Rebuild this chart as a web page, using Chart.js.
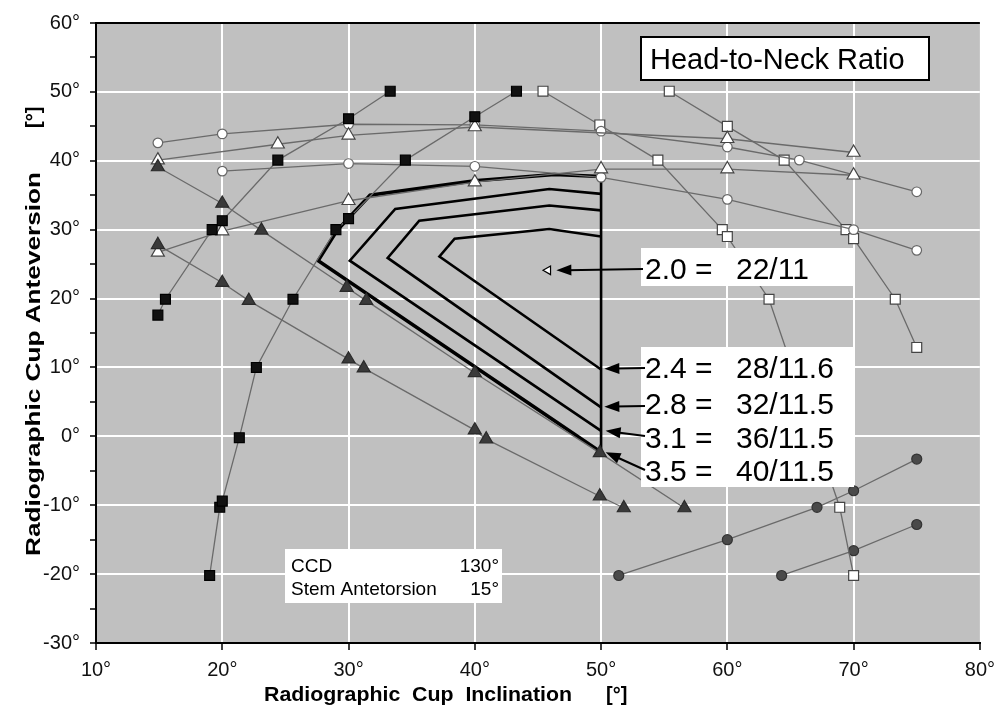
<!DOCTYPE html>
<html>
<head>
<meta charset="utf-8">
<script src="https://cdn.jsdelivr.net/npm/chart.js@4/dist/chart.umd.min.js"></script>
<style>
body { margin: 0; background: #fff; }
</style>
</head>
<body>
<canvas id="myChart" width="1003" height="716"></canvas>
<script>
// values, in degrees

// filled black squares
const sqBlackA_x = [19.0, 19.8, 20.0, 21.35, 22.7, 25.6, 29.0, 30.0, 34.5, 40.0, 43.3];
const sqBlackA_y = [-20.2, -10.3, -9.4, -0.2, 10.0, 19.9, 30.0, 31.6, 40.1, 46.4, 50.1];
const sqBlackB_x = [14.9, 15.5, 19.2, 20.0, 24.4, 30.0, 33.3];
const sqBlackB_y = [17.6, 19.9, 30.0, 31.3, 40.1, 46.1, 50.1];

// filled dark triangles
const triDarkA_x = [14.9, 20.0, 23.1, 29.85, 31.4, 40.0, 49.9, 56.6];
const triDarkA_y = [39.1, 33.8, 29.9, 21.6, 19.7, 9.2, -2.4, -10.4];
const triDarkB_x = [14.9, 20.0, 22.1, 30.0, 31.2, 40.0, 40.9, 49.9, 51.8];
const triDarkB_y = [27.8, 22.3, 19.7, 11.2, 9.9, 0.9, -0.4, -8.7, -10.4];

// open triangles
const triOpenA_x = [14.9, 24.4, 30.0, 40.0, 60.0, 70.0];
const triOpenA_y = [40.1, 42.4, 43.7, 44.9, 43.2, 41.2];
const triOpenB_x = [14.9, 20.0, 30.0, 40.0, 50.0, 60.0, 70.0];
const triOpenB_y = [26.7, 29.8, 34.2, 36.9, 38.8, 38.8, 37.9];

// open circles
const circOpenA_x = [14.9, 20.0, 30.0, 40.0, 50.0, 60.0, 65.7, 75.0];
const circOpenA_y = [42.6, 43.9, 45.3, 45.2, 44.3, 42.0, 40.1, 35.5];
const circOpenB_x = [20.0, 30.0, 40.0, 50.0, 60.0, 70.0, 75.0];
const circOpenB_y = [38.5, 39.6, 39.2, 37.6, 34.4, 30.0, 27.0];

// open squares
const sqOpenA_x = [45.4, 49.9, 54.5, 59.6, 60.0, 63.3, 68.9, 70.0];
const sqOpenA_y = [50.1, 45.2, 40.1, 30.0, 29.0, 19.9, -10.3, -20.2];
const sqOpenB_x = [55.4, 60.0, 64.5, 69.4, 70.0, 73.3, 75.0];
const sqOpenB_y = [50.1, 45.0, 40.1, 30.0, 28.7, 19.9, 12.9];

// filled dark circles
const circDarkA_x = [51.4, 60.0, 67.1, 70.0, 75.0];
const circDarkA_y = [-20.2, -15.0, -10.3, -7.9, -3.3];
const circDarkB_x = [64.3, 70.0, 75.0];
const circDarkB_y = [-20.2, -16.6, -12.8];

// head-to-neck ratio contours (thick black)
const c35_x = [50.0, 27.6, 29.1, 31.7, 40.0, 46.3, 50.0];
const c35_y = [-2.3, 25.5, 29.9, 35.0, 37.1, 38.0, 37.7];
const c31_x = [50.0, 30.1, 33.7, 45.9, 50.0];
const c31_y = [0.8, 25.5, 33.0, 35.9, 35.2];
const c28_x = [50.0, 33.1, 35.6, 45.9, 50.0];
const c28_y = [4.2, 25.9, 31.3, 33.5, 32.8];
const c24_x = [50.0, 37.2, 38.4, 45.9, 50.0];
const c24_y = [9.7, 26.1, 28.7, 30.1, 29.0];
const limit_x = [50.0, 50.0];
const limit_y = [-2.4, 37.7];
const ratio20_x = [45.8];
const ratio20_y = [24.1];

// labels for the arrows
const ratioNames = ['2.0 =', '2.4 =', '2.8 =', '3.1 =', '3.5 ='];
const ratioSizes = ['22/11', '28/11.6', '32/11.5', '36/11.5', '40/11.5'];
const arrowTip_x = [46.3, 50.1, 50.1, 50.2, 50.2];
const arrowTip_y = [24.1, 9.8, 4.3, 0.8, -2.3];

const FONT = '"Liberation Sans", Arial, Helvetica, sans-serif';


function pairs(xs, ys)
{
	return xs.map((x, i) => ({x: x, y: ys[i]}));
}


function markerSet(xs, ys, style, radius, fill, edge, order)
{
	return {
		data: pairs(xs, ys),
		showLine: true,
		borderColor: '#6a6a6a',
		borderWidth: 1.3,
		pointStyle: style,
		pointRadius: radius,
		pointBackgroundColor: fill,
		pointBorderColor: edge,
		pointBorderWidth: 1.2,
		order: order || 1,
	};
}


function contourSet(xs, ys, width)
{
	return {
		data: pairs(xs, ys),
		showLine: true,
		borderColor: '#000',
		borderWidth: width,
		borderJoinStyle: 'miter',
		pointRadius: 0,
		order: 5,
	};
}


function drawArrow(ctx, x0, y0, x1, y1)
{
	const ang = Math.atan2(y1 - y0, x1 - x0);
	const len = 15;
	const half = 5.5;
	const c = Math.cos(ang);
	const s = Math.sin(ang);

	ctx.beginPath();
	ctx.moveTo(x0, y0);
	ctx.lineTo(x1 - c * len * 0.7, y1 - s * len * 0.7);
	ctx.stroke();

	ctx.beginPath();
	ctx.moveTo(x1, y1);
	ctx.lineTo(x1 - len * c + half * s, y1 - len * s - half * c);
	ctx.lineTo(x1 - len * c - half * s, y1 - len * s + half * c);
	ctx.closePath();
	ctx.fill();
}


// draws text stretched along its length so it covers [x0, x1]
function stretchedText(ctx, text, x0, x1, y)
{
	const w = ctx.measureText(text).width;
	ctx.save();
	ctx.translate(x0, y);
	ctx.scale((x1 - x0) / w, 1);
	ctx.fillText(text, 0, 0);
	ctx.restore();
}


const decorations = {
	id: 'decorations',

	beforeDraw(chart)
	{
		const {ctx, chartArea: a} = chart;
		ctx.save();
		ctx.fillStyle = '#c0c0c0';
		ctx.fillRect(a.left, a.top, a.right - a.left, a.bottom - a.top);
		ctx.restore();
	},

	afterDraw(chart)
	{
		const {ctx, chartArea: a} = chart;
		const sx = chart.scales.x;
		const sy = chart.scales.y;

		ctx.save();

		// top frame line
		ctx.strokeStyle = '#000';
		ctx.lineWidth = 2;
		ctx.beginPath();
		ctx.moveTo(a.left, a.top);
		ctx.lineTo(a.right, a.top);
		ctx.stroke();

		// title box
		ctx.fillStyle = '#fff';
		ctx.fillRect(641, 37, 288, 43);
		ctx.strokeRect(641, 37, 288, 43);
		ctx.fillStyle = '#000';
		ctx.font = '29px ' + FONT;
		ctx.textBaseline = 'alphabetic';
		ctx.fillText('Head-to-Neck Ratio', 650, 69);

		// ratio boxes
		ctx.fillStyle = '#fff';
		ctx.fillRect(641, 248, 213, 38);
		ctx.fillRect(641, 347, 213, 140);

		const baselines = [279, 378, 414, 448, 481];
		const tails = [[643, 269], [645, 368], [645, 406], [645, 436], [645, 470]];

		ctx.fillStyle = '#000';
		ctx.font = '30px ' + FONT;
		for (let i = 0; i < ratioNames.length; i++)
		{
			ctx.fillText(ratioNames[i], 645, baselines[i]);
			ctx.fillText(ratioSizes[i], 736, baselines[i]);
		}

		ctx.strokeStyle = '#000';
		ctx.lineWidth = 2;
		for (let i = 0; i < arrowTip_x.length; i++)
		{
			const tx = sx.getPixelForValue(arrowTip_x[i]);
			const ty = sy.getPixelForValue(arrowTip_y[i]);
			drawArrow(ctx, tails[i][0], tails[i][1], tx + 2, ty);
		}

		// CCD box
		ctx.fillStyle = '#fff';
		ctx.fillRect(285, 549, 217, 54);
		ctx.fillStyle = '#000';
		ctx.font = '19px ' + FONT;
		ctx.textAlign = 'left';
		ctx.fillText('CCD', 291, 572);
		ctx.fillText('Stem Antetorsion', 291, 595);
		ctx.textAlign = 'right';
		ctx.fillText('130°', 499, 572);
		ctx.fillText('15°', 499, 595);

		// axis titles
		ctx.font = 'bold 20px ' + FONT;
		ctx.textAlign = 'left';
		ctx.textBaseline = 'alphabetic';
		stretchedText(ctx, 'Radiographic  Cup  Inclination', 264, 572, 701);
		ctx.fillText('[°]', 606, 701);

		ctx.translate(40, 0);
		ctx.rotate(-Math.PI / 2);
		// rotated frame: x runs upwards, so -y of the page
		stretchedText(ctx, 'Radiographic Cup Anteversion', -556, -172, 0);
		ctx.fillText('[°]', -128, 0);

		ctx.restore();
	}
};


window.onload = function()
{
	const canvas = document.getElementById('myChart');

	const datasets = [
		markerSet(ratio20_x, ratio20_y, 'triangle', 5, '#fff', '#000', 0),
		markerSet(sqBlackA_x, sqBlackA_y, 'rect', 7, '#111', '#000'),
		markerSet(sqBlackB_x, sqBlackB_y, 'rect', 7, '#111', '#000'),
		markerSet(triDarkA_x, triDarkA_y, 'triangle', 7.5, '#3a3a3a', '#2a2a2a'),
		markerSet(triDarkB_x, triDarkB_y, 'triangle', 7.5, '#3a3a3a', '#2a2a2a'),
		markerSet(triOpenA_x, triOpenA_y, 'triangle', 7.5, '#fff', '#444'),
		markerSet(triOpenB_x, triOpenB_y, 'triangle', 7.5, '#fff', '#444'),
		markerSet(circOpenA_x, circOpenA_y, 'circle', 4.8, '#fff', '#666'),
		markerSet(circOpenB_x, circOpenB_y, 'circle', 4.8, '#fff', '#666'),
		markerSet(sqOpenA_x, sqOpenA_y, 'rect', 7, '#fff', '#444'),
		markerSet(sqOpenB_x, sqOpenB_y, 'rect', 7, '#fff', '#444'),
		markerSet(circDarkA_x, circDarkA_y, 'circle', 5, '#4a4a4a', '#333'),
		markerSet(circDarkB_x, circDarkB_y, 'circle', 5, '#4a4a4a', '#333'),
		contourSet(c35_x, c35_y, 3.5),
		contourSet(c31_x, c31_y, 2.6),
		contourSet(c28_x, c28_y, 2.6),
		contourSet(c24_x, c24_y, 2.6),
		contourSet(limit_x, limit_y, 2.6),
	];
	datasets[0].pointRotation = -90;
	datasets[0].showLine = false;

	new Chart(canvas, {
		type: 'scatter',
		data: {datasets: datasets},
		plugins: [decorations],
		options: {
			responsive: false,
			animation: false,
			devicePixelRatio: 1,
			layout: {padding: {top: 23, right: 23, left: 0, bottom: 0}},
			plugins: {
				legend: {display: false},
				tooltip: {enabled: false},
			},
			scales: {
				x: {
					type: 'linear',
					min: 10,
					max: 80,
					ticks: {
						stepSize: 10,
						maxRotation: 0,
						autoSkip: false,
						padding: 8,
						color: '#111',
						font: {family: FONT, size: 20},
						callback: (v) => v + '°',
					},
					grid: {
						color: (ctx) => (ctx.tick && ctx.tick.value > 10 && ctx.tick.value < 80) ? '#ffffff' : 'rgba(0,0,0,0)',
						lineWidth: 2,
						tickColor: '#000',
						tickWidth: 1.5,
						tickLength: 7,
					},
					border: {color: '#000', width: 2},
					afterFit: (s) => { s.height = 73; },
				},
				y: {
					type: 'linear',
					min: -30,
					max: 60,
					ticks: {
						stepSize: 5,
						autoSkip: false,
						padding: 10,
						color: '#111',
						font: {family: FONT, size: 20},
						callback: (v) => (v % 10 === 0) ? v + '°' : '',
					},
					grid: {
						color: (ctx) => (ctx.tick && ctx.tick.value % 10 === 0 && ctx.tick.value > -30 && ctx.tick.value < 60) ? '#ffffff' : 'rgba(0,0,0,0)',
						lineWidth: 2,
						tickColor: '#000',
						tickWidth: 1.5,
						tickLength: 6,
					},
					border: {color: '#000', width: 2},
					afterFit: (s) => { s.width = 96; },
				},
			},
		},
	});
};
</script>
</body>
</html>
